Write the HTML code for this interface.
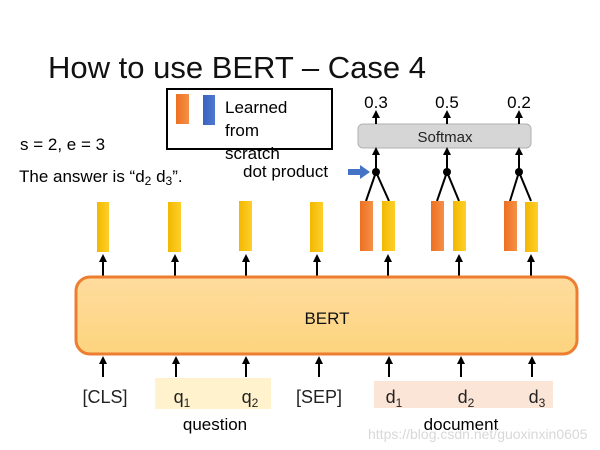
<!DOCTYPE html>
<html><head><meta charset="utf-8"><style>
html,body{margin:0;padding:0;background:#fff;}
svg{display:block;}
text{font-family:"Liberation Sans",sans-serif;}
</style></head><body>
<svg width="600" height="450" viewBox="0 0 600 450" xmlns="http://www.w3.org/2000/svg">
<defs>
<linearGradient id="bg" x1="0" y1="0" x2="0" y2="1"><stop offset="0" stop-color="#fedc9e"/><stop offset="1" stop-color="#fdd47e"/></linearGradient>
<linearGradient id="yel" x1="0" y1="0" x2="1" y2="0"><stop offset="0" stop-color="#f2b800"/><stop offset="1" stop-color="#ffcf2a"/></linearGradient>
<linearGradient id="ora" x1="0" y1="0" x2="1" y2="0"><stop offset="0" stop-color="#ed7020"/><stop offset="1" stop-color="#f59048"/></linearGradient>
<linearGradient id="blu" x1="0" y1="0" x2="1" y2="0"><stop offset="0" stop-color="#3a62c0"/><stop offset="1" stop-color="#4f78d0"/></linearGradient>
<marker id="ah" viewBox="0 0 10 10" refX="5" refY="5" markerWidth="4" markerHeight="4" orient="auto"><path d="M0,0L10,5L0,10z" fill="#000"/></marker>
</defs>
<text x="48" y="78" font-size="31" fill="#111">How to use BERT – Case 4</text>
<rect x="167" y="89" width="165" height="60" fill="#fff" stroke="#000" stroke-width="2"/>
<rect x="176" y="94" width="13" height="30" fill="url(#ora)"/>
<rect x="203" y="95" width="12" height="30" fill="url(#blu)"/>
<text x="225" y="113" font-size="17">Learned</text>
<text x="225" y="136" font-size="17">from</text>
<text x="225" y="159" font-size="17">scratch</text>
<text x="20" y="150" font-size="17">s = 2, e = 3</text>
<text x="19" y="182" font-size="17">The answer is “d<tspan font-size="12" dy="3">2</tspan><tspan dy="-3"> d</tspan><tspan font-size="12" dy="3">3</tspan><tspan dy="-3">”.</tspan></text>
<text x="243" y="177" font-size="17">dot product</text>
<path d="M348,169h12v-4l10,7l-10,7v-4h-12z" fill="#4472c4"/>
<rect x="358" y="124" width="173" height="24" rx="5" fill="#d6d6d6" stroke="#b0b0b0"/>
<text x="445" y="142" font-size="15" text-anchor="middle" fill="#222">Softmax</text>
<g font-size="17" text-anchor="middle">
<text x="376" y="108">0.3</text><text x="447" y="108">0.5</text><text x="519" y="108">0.2</text>
</g>
<g stroke="#000" stroke-width="2" fill="none">
<line x1="376" y1="124" x2="376" y2="114" marker-end="url(#ah)"/>
<line x1="447" y1="124" x2="447" y2="114" marker-end="url(#ah)"/>
<line x1="519" y1="124" x2="519" y2="114" marker-end="url(#ah)"/>
<line x1="376" y1="172" x2="376" y2="151" marker-end="url(#ah)"/>
<line x1="447" y1="172" x2="447" y2="151" marker-end="url(#ah)"/>
<line x1="519" y1="172" x2="519" y2="151" marker-end="url(#ah)"/>
<path d="M366,201L376,172L389,201M437,201L447,172L459,201M510,201L519,172L531,201"/>
</g>
<circle cx="376" cy="172" r="4"/><circle cx="447" cy="172" r="4"/><circle cx="519" cy="172" r="4"/>
<g>
<rect x="360" y="201" width="13" height="50" fill="url(#ora)"/>
<rect x="382" y="201" width="13" height="50" fill="url(#yel)"/>
<rect x="431" y="201" width="13" height="50" fill="url(#ora)"/>
<rect x="453" y="201" width="13" height="50" fill="url(#yel)"/>
<rect x="504" y="201" width="13" height="50" fill="url(#ora)"/>
<rect x="525" y="202" width="13" height="50" fill="url(#yel)"/>
<rect x="97" y="202" width="12" height="50" fill="url(#yel)"/>
<rect x="168" y="202" width="13" height="50" fill="url(#yel)"/>
<rect x="239" y="201" width="13" height="50" fill="url(#yel)"/>
<rect x="310" y="202" width="13" height="50" fill="url(#yel)"/>
</g>
<g stroke="#000" stroke-width="2">
<line x1="103" y1="277" x2="103" y2="258" marker-end="url(#ah)"/>
<line x1="175" y1="277" x2="175" y2="258" marker-end="url(#ah)"/>
<line x1="246" y1="277" x2="246" y2="258" marker-end="url(#ah)"/>
<line x1="317" y1="277" x2="317" y2="258" marker-end="url(#ah)"/>
<line x1="388" y1="277" x2="388" y2="258" marker-end="url(#ah)"/>
<line x1="459" y1="277" x2="459" y2="258" marker-end="url(#ah)"/>
<line x1="531" y1="277" x2="531" y2="258" marker-end="url(#ah)"/>
</g>
<rect x="76" y="277" width="501" height="77" rx="14" fill="url(#bg)" stroke="#ed7d31" stroke-width="3"/>
<text x="327" y="324" font-size="17" text-anchor="middle" fill="#111">BERT</text>
<g stroke="#000" stroke-width="2">
<line x1="103" y1="377" x2="103" y2="360" marker-end="url(#ah)"/>
<line x1="176" y1="377" x2="176" y2="360" marker-end="url(#ah)"/>
<line x1="246" y1="377" x2="246" y2="360" marker-end="url(#ah)"/>
<line x1="319" y1="377" x2="319" y2="360" marker-end="url(#ah)"/>
<line x1="389" y1="377" x2="389" y2="360" marker-end="url(#ah)"/>
<line x1="461" y1="377" x2="461" y2="360" marker-end="url(#ah)"/>
<line x1="532" y1="377" x2="532" y2="360" marker-end="url(#ah)"/>
</g>
<rect x="155" y="378" width="116" height="31" fill="#fff2cc"/>
<rect x="374" y="381" width="179" height="27" fill="#fbe5d6"/>
<g font-size="18" fill="#222" text-anchor="middle">
<text x="105" y="403">[CLS]</text>
<text x="182" y="403">q<tspan font-size="12" dy="4">1</tspan></text>
<text x="250" y="403">q<tspan font-size="12" dy="4">2</tspan></text>
<text x="319" y="403">[SEP]</text>
<text x="394" y="403">d<tspan font-size="12" dy="4">1</tspan></text>
<text x="466" y="403">d<tspan font-size="12" dy="4">2</tspan></text>
<text x="537" y="403">d<tspan font-size="12" dy="4">3</tspan></text>
</g>
<text x="215" y="430" font-size="17" text-anchor="middle">question</text>
<text x="461" y="430" font-size="17" text-anchor="middle">document</text>
<text x="368" y="439" font-size="14" fill="#d8d8d8">https://blog.csdn.net/guoxinxin0605</text>
</svg>
</body></html>
